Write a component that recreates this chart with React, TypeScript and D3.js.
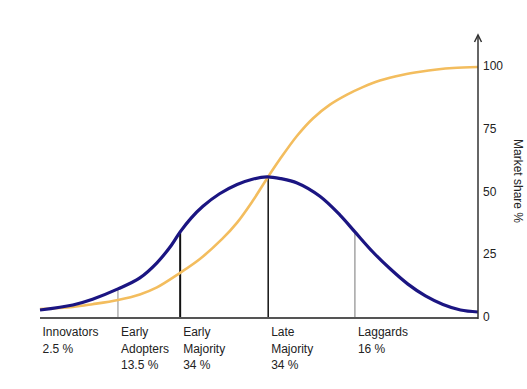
import React from "react";
import * as d3 from "d3";

// Adoption curve (blue)
const bellX = [0, 7.5, 12, 17.8, 22.8, 26.7, 30, 32, 34.5, 37.2, 41, 45, 48.5, 51.8, 55, 58.7, 63.9, 68.5, 71.9, 76, 80, 84, 88, 92, 96, 100];
const bellY = [3.2, 5.2, 7.5, 11.6, 16.0, 22.0, 29.0, 34.3, 39.8, 44.5, 49.5, 53.2, 55.3, 56.2, 55.5, 53.8, 48.5, 41.0, 34.3, 26.3, 19.5, 13.5, 8.8, 5.4, 3.2, 2.4];

// Cumulative market share (yellow)
const cumX = [0, 7.5, 12, 17.8, 22.8, 26.7, 32, 36.5, 41.6, 45, 48.5, 51.8, 54.8, 58.7, 62.3, 66.2, 70.1, 73.7, 77.6, 82.9, 86.8, 90.6, 94.3, 100];
const cumY = [3.6, 4.4, 5.5, 7.2, 9.4, 12.2, 18.0, 23.5, 31.5, 38.0, 46.5, 55.5, 63.3, 72.6, 79.5, 85.0, 89.0, 92.0, 94.6, 96.9, 98.1, 99.0, 99.6, 100];

// Segment dividers
const dividerX = [17.8, 32.0, 52.1, 71.9];
const dividerTop = [11.6, 34.3, 56.2, 34.3];

// Segment labels
const segmentStart = [0, 17.8, 32.0, 52.1, 71.9];
const segmentLabels = [
  ["Innovators", "2.5 %"],
  ["Early", "Adopters", "13.5 %"],
  ["Early", "Majority", "34 %"],
  ["Late", "Majority", "34 %"],
  ["Laggards", "16 %"],
];

const yTicks = [0, 25, 50, 75, 100];
const yTitle = "Market share %";

const W = 527;
const H = 389;

export default function App() {
  const x = d3.scaleLinear().domain([0, 100]).range([40, 478]);
  const y = d3.scaleLinear().domain([0, 100]).range([318, 67]);

  const line = d3
    .line<[number, number]>()
    .x((d) => x(d[0]))
    .y((d) => y(d[1]))
    .curve(d3.curveCatmullRom.alpha(0.5));

  const bell = line(bellX.map((v, i) => [v, bellY[i]]) as [number, number][]) || "";
  const cum = line(cumX.map((v, i) => [v, cumY[i]]) as [number, number][]) || "";

  const dividerStyles = [
    { stroke: "#8a8a8a", w: 1 },
    { stroke: "#111", w: 2 },
    { stroke: "#111", w: 1.5 },
    { stroke: "#777", w: 1 },
  ];

  const font = "'Liberation Sans', Arial, sans-serif";
  const axisX = x(100);

  return (
    <div style={{ position: "absolute", left: 0, top: 0 }}>
      <svg width={W} height={H} viewBox={`0 0 ${W} ${H}`} style={{ display: "block", background: "#fff" }}>
        {dividerX.map((d, i) => (
          <line
            key={"dv" + i}
            x1={x(d)}
            x2={x(d)}
            y1={y(0)}
            y2={y(dividerTop[i])}
            stroke={dividerStyles[i].stroke}
            strokeWidth={dividerStyles[i].w}
          />
        ))}
        <path d={cum} fill="none" stroke="#F3BD5E" strokeWidth={2.6} />
        <path d={bell} fill="none" stroke="#1B1582" strokeWidth={3.2} />
        <line x1={x(0)} x2={axisX} y1={y(0)} y2={y(0)} stroke="#555" strokeWidth={2} />
        <line x1={axisX} x2={axisX} y1={y(0) + 1} y2={35} stroke="#333" strokeWidth={1.5} />
        <path d={`M${axisX - 3.5},${42} L${axisX},${35} L${axisX + 3.5},${42}`} fill="none" stroke="#333" strokeWidth={1.5} />
        {yTicks.map((t) => (
          <text key={"yt" + t} x={axisX + 5} y={y(t) + 3} fontFamily={font} fontSize={12} fill="#222">
            {t}
          </text>
        ))}
        <text
          transform={`translate(514,181) rotate(90)`}
          textAnchor="middle"
          fontFamily={font}
          fontSize={12}
          fill="#222"
        >
          {yTitle}
        </text>
        {segmentLabels.map((lines, i) => (
          <text key={"sl" + i} fontFamily={font} fontSize={12} fill="#222">
            {lines.map((l, j) => (
              <tspan key={j} x={x(segmentStart[i]) + (i === 0 ? 2.5 : 3)} y={336 + j * 16.5}>
                {l}
              </tspan>
            ))}
          </text>
        ))}
      </svg>
    </div>
  );
}
